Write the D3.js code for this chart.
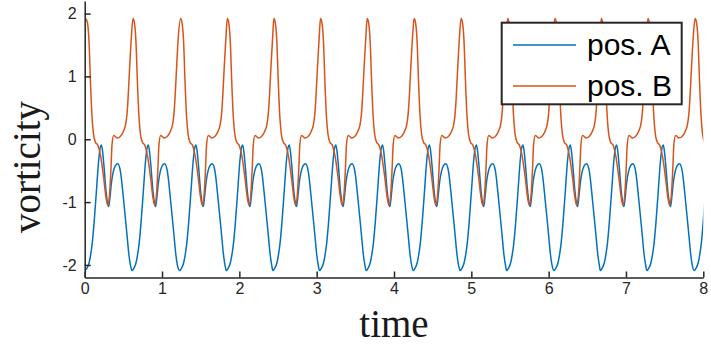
<!DOCTYPE html>
<html>
<head>
<meta charset="utf-8">
<script src="https://cdn.jsdelivr.net/npm/d3@7"></script>
<style>
  body { margin: 0; background: #fff; }
  .axes path, .axes line { stroke: #262626; stroke-width: 1.5; }
  .axes-label { font-family: "Liberation Serif", "Times New Roman", serif; font-size: 39px; fill: #1a1a1a; }
</style>
</head>
<body>
<div id="vis"></div>
<script>
// times of the pos. B peaks
var peakTimes = [0.017, 0.624, 1.240, 1.844, 2.446, 3.049, 3.653, 4.260, 4.867, 5.469, 6.081, 6.680, 7.283, 7.894];

// one cycle of pos. B, time offset from its peak and value
var cycleOffsetsB = [0.000, 0.019, 0.039, 0.058, 0.078, 0.097, 0.123, 0.155, 0.186, 0.229, 0.259, 0.281, 0.307, 0.323, 0.336, 0.358, 0.382, 0.401, 0.440, 0.466, 0.492, 0.510, 0.530, 0.543, 0.565, 0.587];
var cycleValuesB  = [1.92, 1.85, 1.55, 0.90, 0.35, 0.08, -0.05, -0.10, -0.25, -0.62, -0.93, -1.05, -0.83, -0.46, -0.09, 0.06, 0.04, 0.02, 0.04, 0.08, 0.15, 0.22, 0.40, 0.63, 1.16, 1.63];

// one cycle of pos. A, time offset from the pos. B peak and value
var cycleOffsetsA = [-0.013, 0.013, 0.039, 0.058, 0.078, 0.103, 0.136, 0.164, 0.184, 0.199, 0.213, 0.229, 0.259, 0.281, 0.294, 0.310, 0.330, 0.356, 0.380, 0.410, 0.445, 0.488, 0.530, 0.556, 0.574];
var cycleValuesA  = [-2.09, -2.05, -1.97, -1.85, -1.68, -1.35, -0.80, -0.33, -0.13, -0.09, -0.18, -0.38, -0.83, -1.03, -1.07, -0.92, -0.68, -0.50, -0.42, -0.39, -0.51, -0.99, -1.52, -1.85, -2.00];

var xTicks = [0, 1, 2, 3, 4, 5, 6, 7, 8];
var yTicks = [-2, -1, 0, 1, 2];
var seriesNames = ['pos. A', 'pos. B'];
var seriesColors = ['#0072BD', '#D95319'];

var buildSeries = function(offsets, values) {
    var pts = [];
    peakTimes.forEach(function(p) {
        offsets.forEach(function(o, i) {
            pts.push({ t: p + o, v: values[i] });
        });
    });
    return pts;
};

var seriesA = buildSeries(cycleOffsetsA, cycleValuesA);
var seriesB = buildSeries(cycleOffsetsB, cycleValuesB);

var width = 711, height = 346;
var svg = d3.select('#vis').append('svg')
    .attr('width', width)
    .attr('height', height);

var xScale = d3.scaleLinear().domain([0, 8]).range([84.7, 703.3]);
var yScale = d3.scaleLinear().domain([-2.2, 2.2]).range([277.5, 1]);

svg.append('clipPath').attr('id', 'plotclip')
    .append('rect')
    .attr('x', xScale(0)).attr('y', 0)
    .attr('width', xScale(8) - xScale(0)).attr('height', height);

var line = d3.line()
    .x(function(d) { return xScale(d.t); })
    .y(function(d) { return yScale(d.v); })
    .curve(d3.curveMonotoneX);

var plot = svg.append('g').attr('clip-path', 'url(#plotclip)');
[seriesA, seriesB].forEach(function(s, i) {
    plot.append('path')
        .datum(s)
        .attr('d', line)
        .attr('fill', 'none')
        .attr('stroke', seriesColors[i])
        .attr('stroke-width', 1.5)
        .attr('stroke-linejoin', 'round');
});

// axes, ticks pointing inwards like matlab
var xAxis = d3.axisBottom(xScale).tickValues(xTicks).tickFormat(d3.format('d'))
    .tickSizeInner(-6).tickSizeOuter(0).tickPadding(5);
var yAxis = d3.axisLeft(yScale).tickValues(yTicks).tickFormat(function(d) { return d; })
    .tickSizeInner(-6).tickSizeOuter(0).tickPadding(8);

svg.append('g').attr('class', 'axes')
    .attr('transform', 'translate(0,' + yScale(-2.2) + ')')
    .call(xAxis);
svg.append('g').attr('class', 'axes')
    .attr('transform', 'translate(' + xScale(0) + ',0)')
    .call(yAxis);
svg.selectAll('.axes .tick text')
    .style('font-family', '"Liberation Sans", Arial, sans-serif')
    .style('font-size', '16px')
    .attr('fill', '#262626');

// axis labels
svg.append('text')
    .attr('class', 'axes-label')
    .attr('x', (xScale(0) + xScale(8)) / 2)
    .attr('y', 337)
    .attr('text-anchor', 'middle')
    .text('time');

svg.append('text')
    .attr('class', 'axes-label')
    .attr('transform', 'translate(' + 40 + ',' + 167 + ')rotate(-90)')
    .attr('text-anchor', 'middle')
    .text('vorticity');

// legend
var legend = svg.append('g');
legend.append('rect')
    .attr('x', 501.7).attr('y', 22.7)
    .attr('width', 180).attr('height', 81.6)
    .attr('fill', '#fff')
    .attr('stroke', '#262626')
    .attr('stroke-width', 2);

seriesNames.forEach(function(name, i) {
    var ly = 45 + i * 41;
    legend.append('line')
        .attr('x1', 513).attr('x2', 576)
        .attr('y1', ly).attr('y2', ly)
        .attr('stroke', seriesColors[i])
        .attr('stroke-width', 1.5);
    legend.append('text')
        .attr('x', 587).attr('y', ly + 10)
        .style('font-family', '"Liberation Sans", Arial, sans-serif')
        .style('font-size', '30px')
        .attr('fill', '#000')
        .text(name);
});
</script>
</body>
</html>
